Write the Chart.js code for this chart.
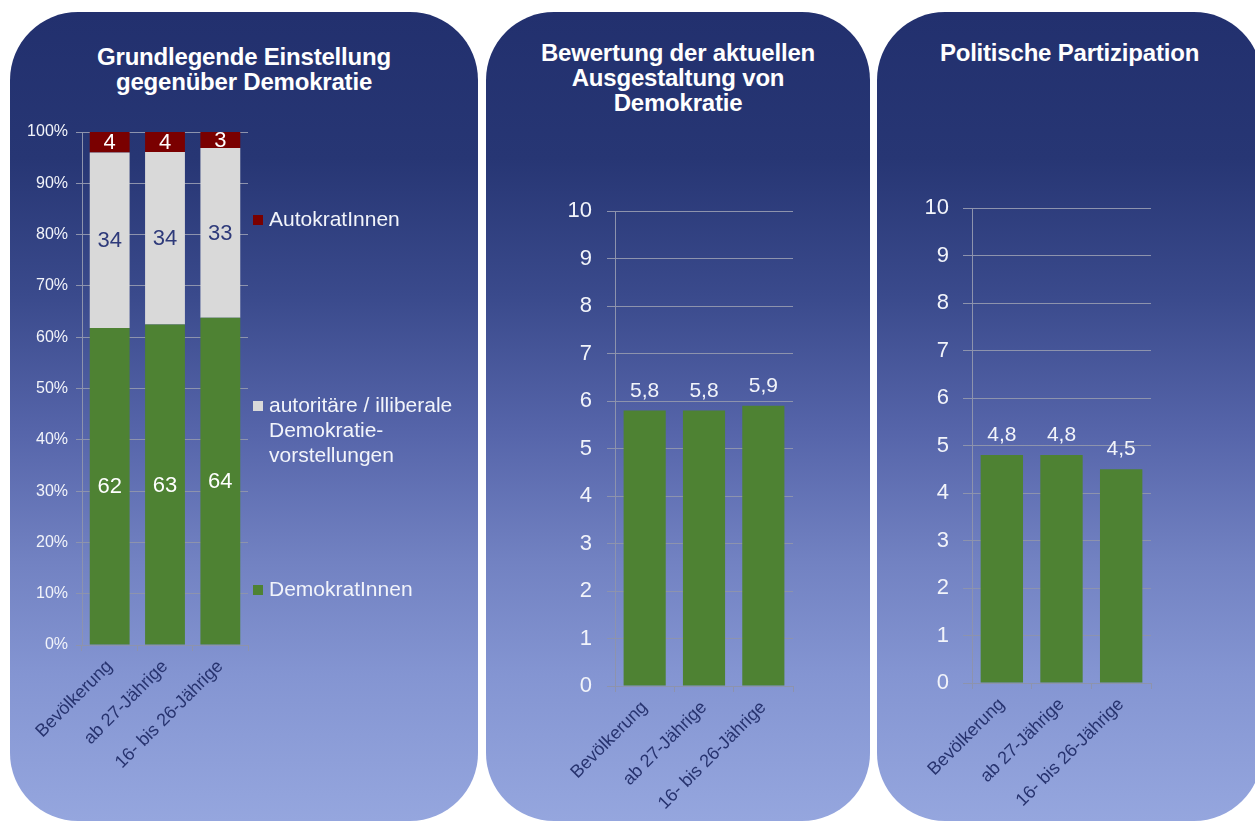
<!DOCTYPE html>
<html lang="de">
<head>
<meta charset="utf-8">
<title>Demokratie</title>
<script src="https://cdn.jsdelivr.net/npm/chart.js@4.4.1/dist/chart.umd.min.js"></script>
<style>
  body { margin: 0; width: 1255px; height: 821px; overflow: hidden; background: #fff; position: relative;
         font-family: "Liberation Sans", Arial, sans-serif; }
  .panel { position: absolute; top: 12px; height: 809px; border-radius: 68px; overflow: hidden;
           background: linear-gradient(to bottom, #22306e 0%, #273674 18%, #3a4a8c 35%, #5665aa 52%, #7282c2 68%, #8495d2 82%, #95a6de 100%); }
  .panel canvas { position: absolute; left: 0; top: 0; }
  .title { position: absolute; left: 0; right: 0; top: 28px; text-align: center; color: #fff;
           font-weight: bold; font-size: 24px; line-height: 25px; letter-spacing: -0.2px; }
</style>
</head>
<body>
<div class="panel" style="left:10px;width:468px;">
  <div class="title" style="top:32px;">Grundlegende Einstellung<br>gegenüber Demokratie</div>
  <canvas id="c1" width="468" height="809"></canvas>
</div>
<div class="panel" style="left:486px;width:384px;">
  <div class="title">Bewertung der aktuellen<br>Ausgestaltung von<br>Demokratie</div>
  <canvas id="c2" width="384" height="809"></canvas>
</div>
<div class="panel" style="left:877px;width:385px;">
  <div class="title">Politische Partizipation</div>
  <canvas id="c3" width="385" height="809"></canvas>
</div>
<script>
// values
const categories = ['Bevölkerung', 'ab 27-Jährige', '16- bis 26-Jährige'];
const demokraten = [61.8, 62.5, 63.8];
const illiberal = [34.2, 33.6, 33.1];
const autokraten = [4.0, 3.9, 3.1];
const seriesNames = ['DemokratInnen', ['autoritäre / illiberale', 'Demokratie-', 'vorstellungen'], 'AutokratInnen'];
const bewertung = [5.8, 5.8, 5.9];
const partizipation = [4.8, 4.8, 4.5];

const GREEN = '#4e8233';
const GREY = '#d9d9d9';
const RED = '#7a0000';
const NAVY = '#27336f';
const GRID = '#8d93ad';
const LIGHT = '#f2f4fa';

Chart.defaults.font.family = '"Liberation Sans", Arial, sans-serif';
Chart.defaults.animation = false;

// numbers on the bars
function valueLabels(opts) {
    return {
        id: 'valueLabels',
        afterDatasetsDraw(chart) {
            const ctx = chart.ctx;
            ctx.save();
            ctx.font = opts.size + 'px "Liberation Sans", Arial, sans-serif';
            ctx.textAlign = 'center';
            chart.data.datasets.forEach((ds, i) => {
                const meta = chart.getDatasetMeta(i);
                meta.data.forEach((bar, j) => {
                    const v = ds.data[j];
                    const text = opts.decimals ? v.toFixed(1).replace('.', ',') : String(Math.round(v));
                    ctx.fillStyle = opts.colors[i];
                    if (opts.inside) {
                        ctx.textBaseline = 'middle';
                        ctx.fillText(text, bar.x, (bar.y + bar.base) / 2 + 1);
                    } else {
                        ctx.textBaseline = 'alphabetic';
                        ctx.fillText(text, bar.x, bar.y - opts.offset);
                    }
                });
            });
            ctx.restore();
        }
    };
}

// legend spread down the right side, like the original
function sideLegend(opts) {
    return {
        id: 'sideLegend',
        afterDraw(chart) {
            const ctx = chart.ctx;
            const area = chart.chartArea;
            ctx.save();
            ctx.font = '21px "Liberation Sans", Arial, sans-serif';
            ctx.textBaseline = 'middle';
            ctx.textAlign = 'left';
            chart.data.datasets.forEach((ds, i) => {
                const y = area.top + opts.ys[i];
                ctx.fillStyle = ds.backgroundColor;
                ctx.fillRect(area.right + 5, y - 5, 10, 10);
                ctx.fillStyle = LIGHT;
                const lines = Array.isArray(ds.label) ? ds.label : [ds.label];
                lines.forEach((line, k) => ctx.fillText(line, area.right + 21, y + k * 25));
            });
            ctx.restore();
        }
    };
}

function xAxis(height) {
    return {
        stacked: true,
        grid: { display: true, drawOnChartArea: false, drawTicks: true, tickLength: 6, color: GRID, offset: true },
        border: { color: GRID },
        ticks: { color: NAVY, font: { size: 18 }, maxRotation: 45, minRotation: 45, autoSkip: false, padding: 5 },
        afterFit: s => { s.height = height; }
    };
}

new Chart(document.getElementById('c1'), {
    type: 'bar',
    data: {
        labels: categories,
        datasets: [
            { label: seriesNames[0], data: demokraten, backgroundColor: GREEN },
            { label: seriesNames[1], data: illiberal, backgroundColor: GREY },
            { label: seriesNames[2], data: autokraten, backgroundColor: RED }
        ]
    },
    options: {
        responsive: false,
        devicePixelRatio: 1,
        layout: { padding: { left: 0, top: 120, right: 230, bottom: 0 } },
        datasets: { bar: { barPercentage: 0.72, categoryPercentage: 1 } },
        plugins: { legend: { display: false }, tooltip: { enabled: false } },
        scales: {
            x: xAxis(176),
            y: {
                stacked: true, min: 0, max: 100,
                grid: { color: GRID, tickLength: 6 },
                border: { color: GRID },
                ticks: { stepSize: 10, color: LIGHT, font: { size: 16 }, padding: 8, callback: v => v + '%' },
                afterFit: s => { s.width = 72; }
            }
        }
    },
    plugins: [
        valueLabels({ inside: true, size: 22, colors: ['#ffffff', '#2e3a7a', '#ffffff'] }),
        sideLegend({ ys: [458, 274, 88] })
    ]
});

function scoreChart(id, values, pad, yWidth, xHeight, tickLen, tickPad) {
    return new Chart(document.getElementById(id), {
        type: 'bar',
        data: {
            labels: categories,
            datasets: [{ label: 'Wert', data: values, backgroundColor: GREEN }]
        },
        options: {
            responsive: false,
            devicePixelRatio: 1,
            layout: { padding: pad },
            datasets: { bar: { barPercentage: 0.71, categoryPercentage: 1 } },
            plugins: { legend: { display: false }, tooltip: { enabled: false } },
            scales: {
                x: xAxis(xHeight),
                y: {
                    min: 0, max: 10,
                    grid: { color: GRID, tickLength: tickLen },
                    border: { color: GRID },
                    ticks: { stepSize: 1, color: LIGHT, font: { size: 22 }, padding: tickPad },
                    afterFit: s => { s.width = yWidth; }
                }
            }
        },
        plugins: [valueLabels({ inside: false, size: 21, offset: 14, decimals: true, colors: [LIGHT] })]
    });
}

scoreChart('c2', bewertung, { left: 0, top: 199, right: 77, bottom: 0 }, 129, 135, 8, 15);
scoreChart('c3', partizipation, { left: 0, top: 196, right: 111, bottom: 0 }, 95, 138, 9, 14);
</script>
</body>
</html>
